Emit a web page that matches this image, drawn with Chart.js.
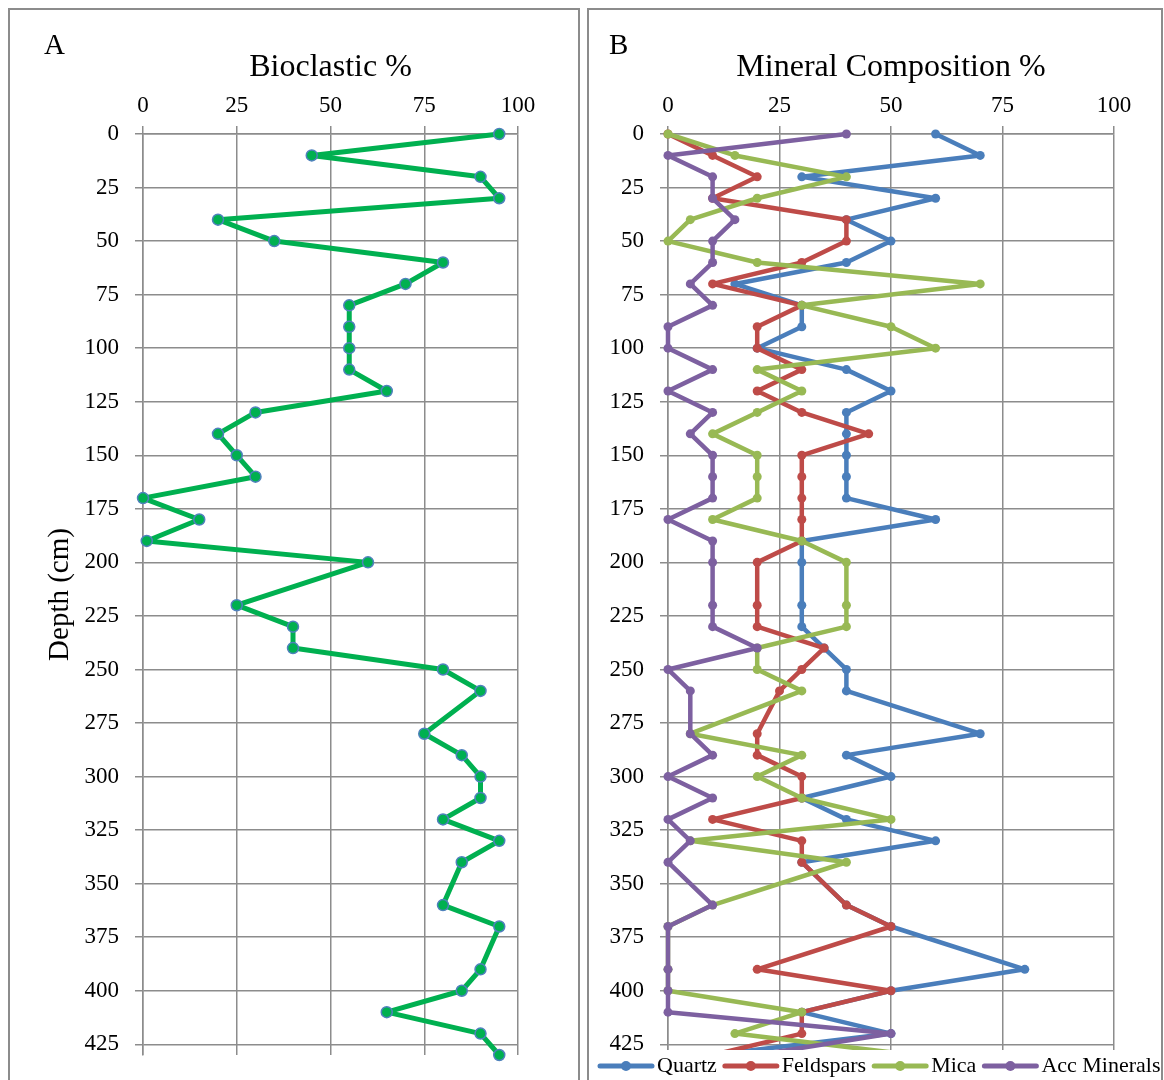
<!DOCTYPE html>
<html>
<head>
<meta charset="utf-8">
<title>Core profile: bioclastic and mineral composition</title>
<script src="https://cdn.jsdelivr.net/npm/chart.js@4.4.1/dist/chart.umd.min.js"></script>
<style>
  html, body { margin: 0; padding: 0; background: #fff; }
  body { width: 1164px; height: 1080px; position: relative; overflow: hidden; }
  .frame { position: absolute; border: 2px solid #8c8c8c; box-sizing: border-box; }
  #frameA { left: 8px; top: 8px; width: 572px; height: 1100px; }
  #frameB { left: 587px; top: 8px; width: 576px; height: 1100px; }
  canvas { position: absolute; top: 0; }
  #chartA { left: 0; width: 584px; height: 1080px; }
  #chartB { left: 584px; width: 580px; height: 1080px; }
</style>
</head>
<body>
<div class="frame" id="frameA"></div>
<div class="frame" id="frameB"></div>
<canvas id="chartA" width="584" height="1080"></canvas>
<canvas id="chartB" width="580" height="1080"></canvas>
<script>
// Sample depths (cm) down the core
const depths = [0, 10, 20, 30, 40, 50, 60, 70, 80, 90, 100, 110, 120, 130, 140, 150, 160, 170, 180, 190, 200,
                220, 230, 240, 250, 260, 280, 290, 300, 310, 320, 330, 340, 360, 370, 390, 400, 410, 420, 430];

// Panel A: bioclastic content (%)
const bioclastic = [95, 45, 90, 95, 20, 35, 80, 70, 55, 55, 55, 55, 65, 30, 20, 25, 30, 0, 15, 1, 60,
                    25, 40, 40, 80, 90, 75, 85, 90, 90, 80, 95, 85, 80, 95, 90, 85, 65, 90, 95];

// Panel B: mineral composition (%)
const quartz      = [60, 70, 30, 60, 40, 50, 40, 15, 30, 30, 20, 40, 50, 40, 40, 40, 40, 40, 60, 30, 30,
                     30, 30, 35, 40, 40, 70, 40, 50, 30, 40, 60, 30, 40, 50, 80, 50, 30, 50, 10];
const feldspars   = [0, 10, 20, 10, 40, 40, 30, 10, 30, 20, 20, 30, 20, 30, 45, 30, 30, 30, 30, 30, 20,
                     20, 20, 35, 30, 25, 20, 20, 30, 30, 10, 30, 30, 40, 50, 20, 50, 30, 30, 10];
const mica        = [0, 15, 40, 20, 5, 0, 20, 70, 30, 50, 60, 20, 30, 20, 10, 20, 20, 20, 10, 30, 40,
                     40, 40, 20, 20, 30, 5, 30, 20, 30, 50, 5, 40, 10, 0, 0, 0, 30, 15, 55];
const accMinerals = [40, 0, 10, 10, 15, 10, 10, 5, 10, 0, 0, 10, 0, 10, 5, 10, 10, 10, 0, 10, 10,
                     10, 10, 20, 0, 5, 5, 10, 0, 10, 0, 5, 0, 10, 0, 0, 0, 0, 50, 20];

// Axis ticks
const depthTicks = [0, 25, 50, 75, 100, 125, 150, 175, 200, 225, 250, 275, 300, 325, 350, 375, 400, 425];
const percentTicks = [0, 25, 50, 75, 100];

const seriesNames = ['Quartz', 'Feldspars', 'Mica', 'Acc Minerals'];
const seriesValues = [quartz, feldspars, mica, accMinerals];
const seriesColors = ['#4A7EBB', '#BE4B48', '#98B954', '#7D60A0'];

Chart.defaults.font.family = '"Liberation Serif", "Times New Roman", serif';
Chart.defaults.color = '#000';

const GRID = '#8c8c8c';

function toPoints(values) {
  return depths.map((d, i) => ({ x: values[i], y: d }));
}

// Letter in the upper-left corner of each panel
const panelLetter = {
  id: 'panelLetter',
  afterDraw(chart, args, opts) {
    const ctx = chart.ctx;
    ctx.save();
    ctx.font = opts.font;
    ctx.fillStyle = '#000';
    ctx.textBaseline = 'alphabetic';
    ctx.fillText(opts.text, opts.x, opts.y);
    ctx.restore();
  }
};

// Horizontal legend laid over the bottom edge of the plot
const bottomLegend = {
  id: 'bottomLegend',
  afterDraw(chart, args, opts) {
    if (!opts.show) return;
    const ctx = chart.ctx;
    ctx.save();
    ctx.fillStyle = '#fff';
    ctx.fillRect(opts.boxLeft, opts.boxTop, opts.boxWidth, opts.boxHeight);
    ctx.font = opts.font;
    ctx.textBaseline = 'middle';
    let x = opts.left;
    const y = opts.y;
    chart.data.datasets.forEach(ds => {
      ctx.strokeStyle = ds.borderColor;
      ctx.lineWidth = opts.lineWidth;
      ctx.lineCap = 'round';
      ctx.beginPath();
      ctx.moveTo(x + 2, y);
      ctx.lineTo(x + opts.symbolWidth - 2, y);
      ctx.stroke();
      ctx.fillStyle = ds.borderColor;
      ctx.beginPath();
      ctx.arc(x + opts.symbolWidth / 2, y, opts.markerRadius, 0, Math.PI * 2);
      ctx.fill();
      x += opts.symbolWidth + opts.textGap;
      ctx.fillStyle = '#000';
      ctx.fillText(ds.label, x, y);
      x += ctx.measureText(ds.label).width + opts.itemGap;
    });
    ctx.restore();
  }
};

function buildOptions(cfg) {
  return {
    responsive: false,
    devicePixelRatio: 1,
    animation: false,
    events: [],
    layout: {
      autoPadding: false,
      padding: { left: cfg.padLeft, right: cfg.padRight, top: 10, bottom: 25 }
    },
    plugins: {
      legend: { display: false },
      tooltip: { enabled: false },
      panelLetter: cfg.letter,
      bottomLegend: cfg.legend || { show: false }
    },
    scales: {
      x: {
        type: 'linear',
        position: 'top',
        min: 0,
        max: 100,
        afterBuildTicks: axis => { axis.ticks = percentTicks.map(v => ({ value: v })); },
        afterFit: axis => { axis.height = 124; },
        ticks: { font: { size: 23 }, padding: 6, maxRotation: 0 },
        grid: { color: GRID, lineWidth: 1.5, tickLength: 8, tickColor: GRID },
        border: { display: true, color: GRID, width: 1.5 },
        title: { display: true, text: cfg.title, font: { size: 32 }, padding: { top: 38, bottom: 0 } }
      },
      y: {
        type: 'linear',
        position: 'left',
        reverse: true,
        min: 0,
        max: 430,
        afterBuildTicks: axis => { axis.ticks = depthTicks.map(v => ({ value: v })); },
        afterFit: axis => {
          axis.width = cfg.yWidth;
          axis.paddingTop = 0;
          axis.paddingBottom = 0;
        },
        ticks: { font: { size: 23 }, padding: 16 },
        grid: { color: GRID, lineWidth: 1.5, tickLength: 8, tickColor: GRID },
        border: { display: true, color: GRID, width: 1.5 },
        title: cfg.yTitle
          ? { display: true, text: cfg.yTitle, font: { size: 29 }, padding: { top: 13, bottom: 0 } }
          : { display: false }
      }
    }
  };
}

// Panel A
new Chart(document.getElementById('chartA'), {
  type: 'scatter',
  data: {
    datasets: [{
      label: 'Bioclastic',
      data: toPoints(bioclastic),
      showLine: true,
      borderColor: '#00B050',
      borderWidth: 5,
      borderJoinStyle: 'round',
      borderCapStyle: 'round',
      pointRadius: 5.5,
      pointBackgroundColor: '#00B050',
      pointBorderColor: '#4F81BD',
      pointBorderWidth: 1.5,
      clip: false
    }]
  },
  options: buildOptions({
    title: 'Bioclastic %',
    yTitle: 'Depth (cm)',
    padLeft: 30,
    padRight: 66,
    yWidth: 113,
    letter: { text: 'A', x: 44, y: 54, font: '29px "Liberation Serif"' }
  }),
  plugins: [panelLetter, bottomLegend]
});

// Panel B: later series drawn on top
new Chart(document.getElementById('chartB'), {
  type: 'scatter',
  data: {
    datasets: seriesNames.map((name, i) => ({
      label: name,
      data: toPoints(seriesValues[i]),
      order: seriesNames.length - i,
      showLine: true,
      borderColor: seriesColors[i],
      borderWidth: 4.5,
      borderJoinStyle: 'round',
      borderCapStyle: 'round',
      pointRadius: 4.5,
      pointBackgroundColor: seriesColors[i],
      pointBorderColor: seriesColors[i],
      pointBorderWidth: 0,
      clip: false
    }))
  },
  options: buildOptions({
    title: 'Mineral Composition %',
    yTitle: null,
    padLeft: 20,
    padRight: 50,
    yWidth: 64,
    letter: { text: 'B', x: 25, y: 54, font: '29px "Liberation Serif"' },
    legend: {
      show: true,
      boxLeft: 10, boxTop: 1050, boxWidth: 567, boxHeight: 32,
      left: 14, y: 1066,
      font: '22px "Liberation Serif"',
      symbolWidth: 56, textGap: 3, itemGap: 6,
      lineWidth: 5, markerRadius: 5
    }
  }),
  plugins: [panelLetter, bottomLegend]
});
</script>
</body>
</html>
